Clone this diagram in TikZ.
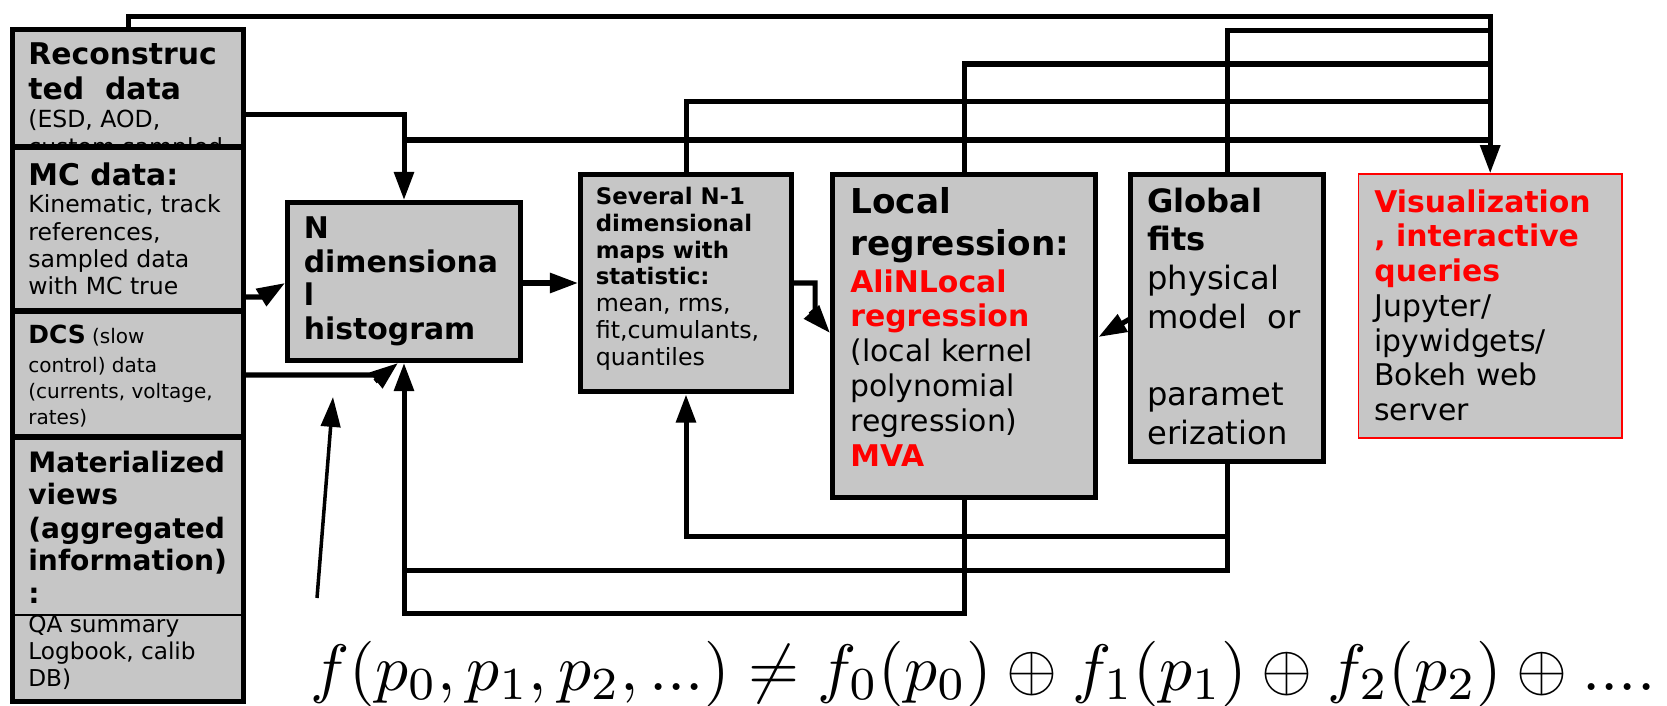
\documentclass[tikz,border=0pt]{standalone}
\usepackage{fontspec}
\setmainfont{DejaVu Sans}
\usepackage{graphicx}
\usetikzlibrary{arrows.meta}

\definecolor{boxgray}{RGB}{198,198,198}
\definecolor{alired}{RGB}{255,0,0}

\newcommand{\hbf}[2]{{\fontsize{#1}{#1}\selectfont\bfseries #2}}
\newcommand{\rbf}[1]{{\color{alired}\bfseries #1}}
\lineskiplimit=-50pt

\begin{document}
\begin{tikzpicture}[x=0.02cm, y=-0.02cm,
  box/.style={draw, line width=2.85pt, fill=boxgray, inner sep=0pt},
  txt/.style={anchor=north west, align=left, inner sep=0pt, text=black},
  wire/.style={line width=2.85pt, line cap=rect},
  arr/.style={-{Triangle[width=11pt,length=16pt]}}]
\useasboundingbox (0,0) rectangle (1667,706);

% data sources
\node[box, minimum width=4.63cm, minimum height=2.36cm] (recon) at (128.25,88) {};
\node[txt, font=\fontsize{13.4}{15.5}\selectfont] (recont) at (28,42)
  {\hbf{17}{Reconstruc}\\[4.9pt]\hbf{17}{ted\ \ data}\\[0.4pt](ESD, AOD,\\custom sampled};
\node[box, minimum width=4.63cm, minimum height=3.28cm] (mc) at (128.25,229) {};
\node[txt, font=\fontsize{13.4}{15.5}\selectfont] (mct) at (28,162)
  {\hbf{17}{MC data:}\\[0.4pt]Kinematic, track\\references,\\sampled data\\with MC true};
\node[box, minimum width=4.63cm, minimum height=2.52cm] (dcs) at (128.25,374) {};
\node[txt, font=\fontsize{11.4}{14.7}\selectfont] (dcst) at (28,324.7)
  {\hbf{14.2}{DCS} (slow\\[1.7pt]control) data\\(currents, voltage,\\rates)};
\node[box, minimum width=4.63cm, minimum height=5.30cm] (mat) at (128.25,569.5) {};
\node[txt, font=\fontsize{13.2}{15.3}\selectfont] (matt) at (28,450.6)
  {\hbf{16}{Materialized}\\[2.8pt]\hbf{16}{views}\\[4pt]\hbf{16}{(aggregated}\\[3.4pt]\hbf{16}{information)}\\[3.4pt]\hbf{16}{:}\\[1.1pt]QA summary\\Logbook, calib\\DB)};
\draw[line width=1pt] (mat.west |- 0,615) -- (mat.east |- 0,615);

% processing chain
\node[box, minimum width=4.66cm, minimum height=3.16cm] (hist) at (404,281.5) {};
\node[txt, font=\fontsize{17}{19.3}\selectfont\bfseries] (histt) at (303.5,216)
  {N\\dimensiona\\l\\histogram};
\node[box, minimum width=4.22cm, minimum height=4.35cm] (maps) at (686,283.25) {};
\node[txt, font=\fontsize{13.5}{15.3}\selectfont] (mapst) at (595.5,186.6)
  {\hbf{13}{Several N-1}\\\hbf{13}{dimensional}\\\hbf{13}{maps with}\\\hbf{13}{statistic:}\\mean, rms,\\fit,cumulants,\\quantiles};
\node[box, minimum width=5.27cm, minimum height=6.47cm] (local) at (964.25,336.25) {};
\node[txt, font=\fontsize{17}{19.8}\selectfont] (localt) at (850,187)
  {\hbf{19.5}{Local}\\[4pt]\hbf{19.5}{regression:}\\[1.2pt]\rbf{AliNLocal}\\\rbf{regression}\\(local kernel\\polynomial\\regression)\\\rbf{MVA}};
\node[box, minimum width=3.86cm, minimum height=5.75cm] (global) at (1227,318.25) {};
\node[txt, font=\fontsize{18.3}{22}\selectfont] (globalt) at (1147,187.5)
  {\textbf{Global}\\\textbf{fits}\\physical\\model\ \ or\\ \\paramet\\erization};
\node[draw=alired, line width=1.1pt, fill=boxgray, inner sep=0pt,
  minimum width=5.27cm, minimum height=5.27cm] (vis) at (1490.2,306) {};
\node[txt, font=\fontsize{17}{19.8}\selectfont] (vist) at (1374,189)
  {\rbf{Visualization}\\\rbf{, interactive}\\\rbf{queries}\\Jupyter/\\ipywidgets/\\Bokeh web\\server};

% lines up to the visualization
\coordinate (v1) at (vis.north |- 0,16.7);
\coordinate (v2) at (vis.north |- 0,30.5);
\coordinate (v3) at (vis.north |- 0,64);
\coordinate (v4) at (vis.north |- 0,101.8);
\coordinate (v5) at (vis.north |- 0,140);
\coordinate (rj) at (404,114.5);
\draw[wire, arr] (recon.east |- rj) -- (rj) -- (hist.north);
\draw[wire] (recon.north) |- (v1);
\draw[wire] (global.north) |- (v2);
\draw[wire] (local.north) |- (v3);
\draw[wire] (maps.north) |- (v4);
\draw[wire] (rj |- v5) -- (v5);
\draw[wire, arr] (v1) -- (vis.north);

% feedback along the bottom
\coordinate (b1) at (local.south |- 0,613.5);
\coordinate (b2) at (global.south |- 0,570.8);
\coordinate (b3) at (global.south |- 0,536.5);
\draw[wire, arr] (local.south) -- (b1) -| (hist.south);
\draw[wire] (global.south) -- (b2) -- (hist.south |- b2);
\draw[wire, arr] (b3) -| (maps.south);

% forward arrows
\draw[wire, arr] (hist.east |- 0,283) -- (maps.west |- 0,283);
\draw[wire, arr] (maps.east |- 0,283) -- (815,283) -- (815,316) -- (local.west |- 0,333);
\draw[wire, arr] (global.west |- 0,320) -- (local.east |- 0,337);
\draw[wire, arr] (mc.east |- 0,297) -- (262,297) -- (hist.west |- 0,283);
\draw[wire, arr] (dcs.east |- 0,375) -- (383,375) -- ([xshift=-0.12cm]hist.south);

% free arrow
\coordinate (fa) at (317,598);
\coordinate (fb) at (333,397);
\draw[line width=2pt, -{Triangle[width=11pt,length=17pt]}] (fa) -- (fb);

\node[anchor=base west, inner sep=0pt] (formula) at (310,690)
  {\resizebox{26.9cm}{!}{$f(p_0,p_1,p_2,...)\neq f_0(p_0)\oplus f_1(p_1)\oplus f_2(p_2)\oplus ....$}};
\end{tikzpicture}
\end{document}
